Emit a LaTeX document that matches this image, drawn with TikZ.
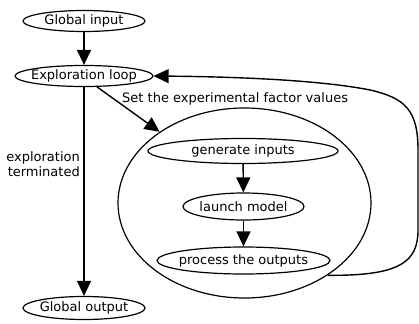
\documentclass[tikz,border=0pt]{standalone}
\usepackage{fontspec}
\setmainfont{DejaVu Sans}
\usetikzlibrary{shapes.geometric,arrows.meta}
% zero-width text so that the ellipse keeps its given size
\newcommand{\ovaltext}[1]{\makebox[0pt]{#1}}
\begin{document}
\begin{tikzpicture}[x=1pt,y=-1pt,
  every node/.style={font=\fontsize{13}{15}\selectfont},
  oval/.style={ellipse,draw,line width=1.2pt,inner sep=0pt},
  flow/.style={line width=1.4pt,-{Triangle[length=15pt,width=14pt]}},
  lbl/.style={inner sep=0pt}]
\useasboundingbox (0,0) rectangle (419,323);

% outer workflow
\node[oval,minimum width=122pt,minimum height=21pt] (gin) at (84,21) {\ovaltext{Global input}};
\node[oval,minimum width=138pt,minimum height=21pt] (loop) at (84,76) {\ovaltext{Exploration loop}};
\node[oval,minimum width=122pt,minimum height=23pt] (gout) at (84,308) {\ovaltext{Global output}};

% one experiment
\node[oval,minimum width=253pt,minimum height=190pt] (big) at (244.5,203) {};
\node[oval,minimum width=190pt,minimum height=25pt] (gen) at (243,151) {\ovaltext{generate inputs}};
\node[oval,minimum width=121pt,minimum height=27pt] (launch) at (243.5,206.5) {\ovaltext{launch model}};
\node[oval,minimum width=173pt,minimum height=27pt] (proc) at (243.5,260.5) {\ovaltext{process the outputs}};

% connectors
\draw[flow] (gin) -- (loop);
\draw[flow] (loop) -- (gout);
\draw[flow] (loop.-40) -- (big.140);
\draw[flow] (gen) -- (launch);
\draw[flow] (launch) -- (proc);
\draw[flow] (big.-41) .. controls (400,276) and (418,262) .. (418,230)
  -- (418,150) .. controls (418,110) and (405,98) .. (370,90)
  .. controls (330,82) and (260,77) .. (loop.east);

% labels
\node[lbl,anchor=west] (setlbl) at (122,99) {Set the experimental factor values};
\node[lbl,anchor=east,align=right] (termlbl) at (80,164)
  {exploration\\terminated};
\end{tikzpicture}
\end{document}
